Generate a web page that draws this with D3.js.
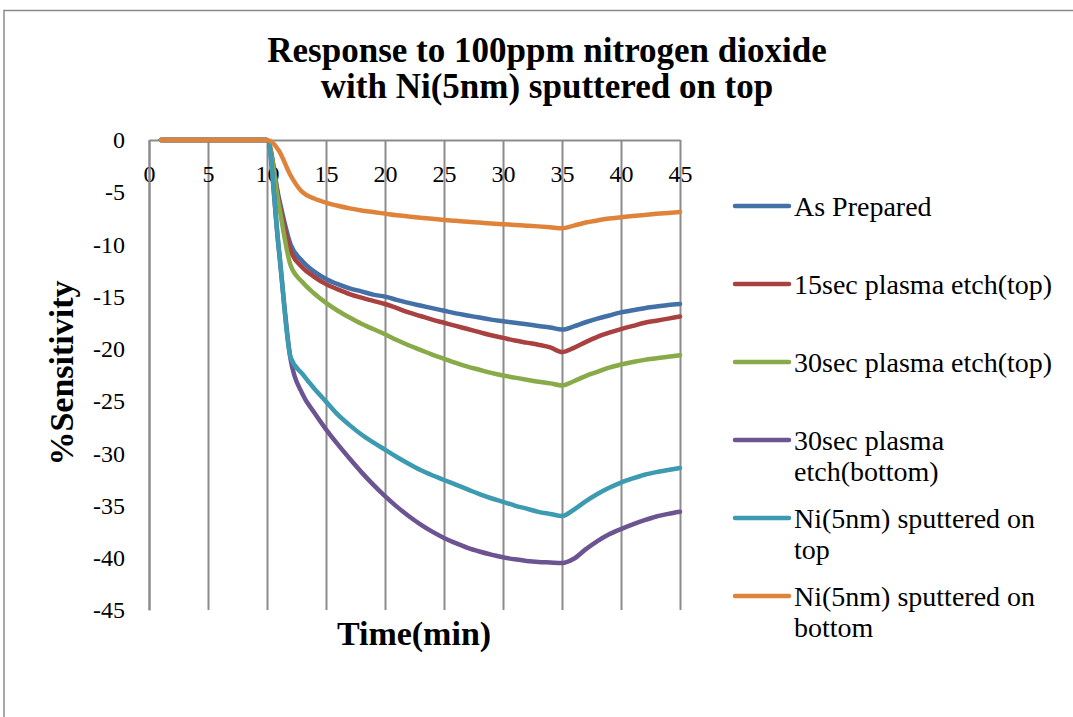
<!DOCTYPE html>
<html>
<head>
<meta charset="utf-8">
<script src="https://cdnjs.cloudflare.com/ajax/libs/d3/7.8.5/d3.min.js"></script>
<style>
  body { margin: 0; background: #fff; }
  text { font-family: "Liberation Serif", "Times New Roman", serif; fill: #000; }
</style>
</head>
<body>
<div id="chart"></div>
<script>
var width = 1073,
    height = 717;

// minutes 1..45
var times = d3.range(1, 46);

var seriesNames = ["As Prepared", "15sec plasma etch(top)", "30sec plasma etch(top)",
  "30sec plasma etch(bottom)", "Ni(5nm) sputtered on top", "Ni(5nm) sputtered on bottom"];

var asPrepared = [0, 0, 0, 0, 0, 0, 0, 0, 0, 0,
  -5.5, -10.0, -11.6, -12.6, -13.3, -13.8, -14.2, -14.5, -14.8, -15.0,
  -15.3, -15.6, -15.85, -16.1, -16.35, -16.6, -16.8, -17.0, -17.2, -17.35,
  -17.5, -17.65, -17.8, -17.95, -18.15, -17.85, -17.45, -17.1, -16.8, -16.5,
  -16.3, -16.1, -15.95, -15.8, -15.7];

var etch15Top = [0, 0, 0, 0, 0, 0, 0, 0, 0, 0,
  -5.8, -10.6, -12.2, -13.1, -13.8, -14.3, -14.75, -15.1, -15.4, -15.7,
  -16.1, -16.5, -16.85, -17.2, -17.5, -17.8, -18.1, -18.4, -18.7, -18.95,
  -19.2, -19.4, -19.6, -19.85, -20.3, -19.9, -19.35, -18.85, -18.45, -18.1,
  -17.8, -17.5, -17.3, -17.1, -16.9];

var etch30Top = [0, 0, 0, 0, 0, 0, 0, 0, 0, 0,
  -6.2, -12.0, -13.6, -14.7, -15.6, -16.35, -17.0, -17.6, -18.1, -18.6,
  -19.15, -19.65, -20.1, -20.55, -20.95, -21.35, -21.7, -22.0, -22.3, -22.55,
  -22.75, -22.95, -23.15, -23.3, -23.5, -23.1, -22.6, -22.2, -21.8, -21.5,
  -21.25, -21.05, -20.9, -20.75, -20.6];

var etch30Bottom = [0, 0, 0, 0, 0, 0, 0, 0, 0, 0,
  -10.5, -21.0, -24.3, -26.1, -27.7, -29.15, -30.5, -31.8, -33.0, -34.1,
  -35.1, -36.0, -36.8, -37.5, -38.1, -38.6, -39.05, -39.4, -39.7, -39.95,
  -40.15, -40.3, -40.4, -40.45, -40.5, -40.1, -39.2, -38.4, -37.75, -37.25,
  -36.8, -36.4, -36.05, -35.8, -35.6];

var niTop = [0, 0, 0, 0, 0, 0, 0, 0, 0, 0,
  -10.3, -20.8, -22.4, -23.8, -25.05, -26.3, -27.3, -28.2, -28.95, -29.65,
  -30.35, -31.0, -31.6, -32.1, -32.55, -33.0, -33.45, -33.9, -34.3, -34.65,
  -35.0, -35.3, -35.6, -35.8, -36.0, -35.4, -34.6, -33.9, -33.3, -32.8,
  -32.4, -32.05, -31.8, -31.6, -31.4];

var niBottom = [0, 0, 0, 0, 0, 0, 0, 0, 0, 0,
  -1.0, -3.4, -5.0, -5.6, -6.0, -6.3, -6.55, -6.75, -6.9, -7.05,
  -7.2, -7.32, -7.44, -7.55, -7.65, -7.74, -7.83, -7.91, -7.99, -8.06,
  -8.13, -8.2, -8.27, -8.35, -8.45, -8.2, -7.9, -7.7, -7.52, -7.4,
  -7.28, -7.17, -7.07, -6.98, -6.9];

var xTicks = [0, 5, 10, 15, 20, 25, 30, 35, 40, 45];
var yTicks = [0, -5, -10, -15, -20, -25, -30, -35, -40, -45];

var colors = ["#4470a8", "#a8413f", "#88aa48", "#6b5491", "#3c9ab1", "#e0833a"];

var seriesValues = [asPrepared, etch15Top, etch30Top, etch30Bottom, niTop, niBottom];

var series = seriesNames.map(function(name, i) {
  return {
    name: name,
    color: colors[i],
    values: times.map(function(t, j) { return {t: t, v: seriesValues[i][j]}; })
  };
});

var plotLeft = 149, plotRight = 680, plotTop = 140, plotBottom = 610;

var x = d3.scaleLinear().domain([0, 45]).range([plotLeft, plotRight]);
var y = d3.scaleLinear().domain([0, -45]).range([plotTop, plotBottom]);

// plain hyphen for negatives, like the spreadsheet
var plainNumber = function(d) { return String(d); };

var svg = d3.select("#chart").append("svg")
    .attr("width", width)
    .attr("height", height);

// outer chart border (runs off the right and bottom edges)
svg.append("path")
    .attr("d", "M4,1000 L4,10.5 L1100,10.5")
    .attr("fill", "none")
    .attr("stroke", "#8a8a8a")
    .attr("stroke-width", 1.5);

// vertical gridlines
svg.append("g")
    .attr("class", "grid")
    .attr("transform", "translate(0," + plotTop + ")")
    .call(d3.axisBottom(x).tickValues(xTicks).tickSize(plotBottom - plotTop).tickFormat(""))
    .call(function(g) { g.select(".domain").remove(); })
    .call(function(g) {
      g.selectAll("line").attr("stroke", "#8c8c8c").attr("stroke-width", 2);
    });

// x axis at value 0 (top of plot)
var xAxis = svg.append("g")
    .attr("transform", "translate(0," + plotTop + ")")
    .call(d3.axisBottom(x).tickValues(xTicks).tickSize(0).tickPadding(25).tickFormat(plainNumber));
xAxis.select(".domain").attr("stroke", "#8c8c8c").attr("stroke-width", 2);
xAxis.selectAll("text")
    .style("font-family", "Liberation Serif")
    .style("font-size", "24px");

var yAxis = svg.append("g")
    .attr("transform", "translate(" + plotLeft + ",0)")
    .call(d3.axisLeft(y).tickValues(yTicks).tickSize(0).tickPadding(24).tickFormat(plainNumber));
yAxis.select(".domain").attr("stroke", "#8c8c8c").attr("stroke-width", 2);
yAxis.selectAll("text")
    .style("font-family", "Liberation Serif")
    .style("font-size", "24px");

var line = d3.line()
    .curve(d3.curveMonotoneX)
    .x(function(d) { return x(d.t); })
    .y(function(d) { return y(d.v); });

svg.selectAll(".series")
    .data(series)
  .enter().append("path")
    .attr("class", "series")
    .attr("d", function(d) { return line(d.values); })
    .attr("fill", "none")
    .attr("stroke", function(d) { return d.color; })
    .attr("stroke-width", 4.5)
    .attr("stroke-linejoin", "round")
    .attr("stroke-linecap", "round");

// title
svg.append("text")
    .attr("x", 547)
    .attr("y", 62)
    .attr("text-anchor", "middle")
    .style("font-size", "35px")
    .style("font-weight", "bold")
    .text("Response to 100ppm nitrogen dioxide");

svg.append("text")
    .attr("x", 547)
    .attr("y", 98)
    .attr("text-anchor", "middle")
    .style("font-size", "35px")
    .style("font-weight", "bold")
    .text("with Ni(5nm) sputtered on top");

svg.append("text")
    .attr("x", 414)
    .attr("y", 645)
    .attr("text-anchor", "middle")
    .style("font-size", "34px")
    .style("font-weight", "bold")
    .text("Time(min)");

svg.append("text")
    .attr("transform", "translate(73,373) rotate(-90)")
    .attr("text-anchor", "middle")
    .style("font-size", "34px")
    .style("font-weight", "bold")
    .text("%Sensitivity");

// legend
var legend = svg.selectAll(".legend")
    .data(series)
  .enter().append("g")
    .attr("class", "legend")
    .attr("transform", function(d, i) { return "translate(735," + (206 + i * 78) + ")"; });

legend.append("line")
    .attr("x1", 0)
    .attr("x2", 54)
    .attr("stroke", function(d) { return d.color; })
    .attr("stroke-width", 4.5)
    .attr("stroke-linecap", "round");

legend.append("text")
    .attr("x", 59)
    .attr("y", 0)
    .style("font-size", "28px")
    .each(function(d) {
      var el = d3.select(this),
          words = d.name.split(" "),
          lineText = [],
          lineNo = 0,
          tspan = el.append("tspan").attr("x", 59).attr("y", 0).attr("dy", "0.35em");
      words.forEach(function(w) {
        lineText.push(w);
        tspan.text(lineText.join(" "));
        if (tspan.node().getComputedTextLength() > 272 && lineText.length > 1) {
          lineText.pop();
          tspan.text(lineText.join(" "));
          lineText = [w];
          lineNo++;
          tspan = el.append("tspan").attr("x", 59).attr("y", lineNo * 31).attr("dy", "0.35em").text(w);
        }
      });
    });
</script>
</body>
</html>
